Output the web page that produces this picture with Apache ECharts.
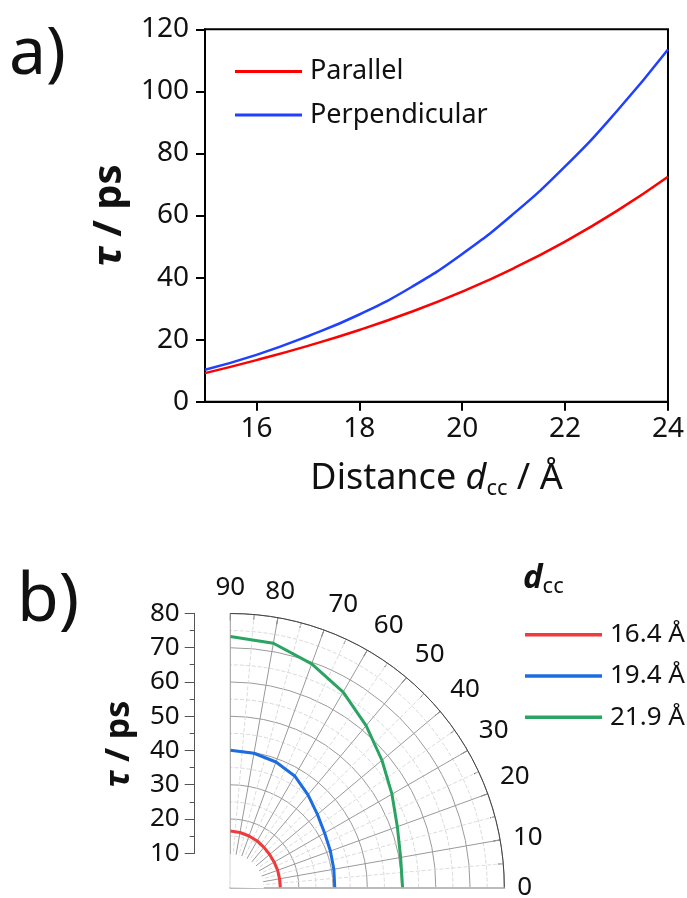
<!DOCTYPE html>
<html>
<head>
<meta charset="UTF-8">
<title>tau vs distance</title>
<script src="https://cdn.jsdelivr.net/npm/echarts@6/dist/echarts.min.js"></script>
<style>
 body{margin:0;background:#fff;}
 #main{width:687px;height:898px;}
</style>
</head>
<body>
<div id="main"></div>
<script>
// a) tau vs distance
var distance = [15, 16, 17, 18, 19, 20, 21, 22, 23, 24];
var parallel = [9.2, 13.4, 18.0, 23.1, 28.9, 35.5, 43.0, 51.6, 61.4, 72.5];
var perpendicular = [10.3, 15.1, 21.1, 28.1, 36.8, 47.6, 60.6, 75.8, 93.5, 113.5];
var xTicks = [16, 18, 20, 22, 24];

// b) polar, tau vs angle for three distances
var angles = [0, 10, 20, 30, 40, 50, 60, 70, 80, 90];
var tau164 = [14.6, 14.6, 14.7, 14.8, 15.0, 15.3, 15.7, 16.0, 16.3, 16.5];
var tau194 = [30.5, 30.7, 31.1, 31.8, 33.2, 35.3, 37.6, 39.0, 39.8, 40.1];
var tau219 = [50.3, 50.5, 51.9, 54.5, 57.8, 61.7, 65.9, 69.5, 72.4, 73.3];
var dccNames = ['16.4 Å', '19.4 Å', '21.9 Å'];

var font = 'Noto Sans';
var myChart = echarts.init(document.getElementById('main'));

function pairs(x, y) {
    return x.map(function (v, i) { return [v, y[i]]; });
}
function polarPairs(tau) {
    return angles.map(function (a, i) { return [tau[i], a]; });
}
var clear = 'rgba(0,0,0,0)';
// solid circles every 10, none at 0 and 10 (hole in the middle)
var circleColors = [clear, clear, '#9a9a9a', '#9a9a9a', '#9a9a9a', '#9a9a9a', '#9a9a9a', '#9a9a9a', '#9a9a9a'];
// dashed circles at 15, 25 ... 75 (second polar, interval 5)
var dashColors = [];
for (var k = 0; k <= 16; k++) dashColors.push(k % 2 === 1 && k >= 3 ? '#d8d8d8' : clear);

var polarCenter = [230.3, 887.5];
var angleBase = {
    type: 'value', min: 0, max: 90, interval: 10,
    startAngle: 0, endAngle: 90, clockwise: false
};

var option = {
    animation: false,
    textStyle: {fontFamily: font},
    grid: [
        {left: 205, top: 29.3, width: 463.3, height: 372.4, show: true, borderColor: '#000', borderWidth: 2},
        {left: 194.7, top: 613.3, width: 1, height: 240}
    ],
    legend: [
        {
            orient: 'vertical', left: 230, top: 51.5, icon: 'rect', itemWidth: 67, itemHeight: 3, itemGap: 13.4,
            textStyle: {fontSize: 27, lineHeight: 30, color: '#111', fontFamily: font, padding: [0, 0, 0, 3]},
            data: ['Parallel', 'Perpendicular']
        },
        {
            orient: 'vertical', left: 520, top: 614.7, icon: 'rect', itemWidth: 77, itemHeight: 3.5, itemGap: 11.3,
            textStyle: {fontSize: 26, lineHeight: 30, color: '#111', fontFamily: font, padding: [0, 0, 0, 3]},
            data: dccNames
        }
    ],
    xAxis: [
        {
            gridIndex: 0, type: 'value', min: 15, max: 24,
            name: '{t|Distance }{i|d}{s|cc}{t| / Å}',
            nameLocation: 'middle', nameGap: 56,
            nameTextStyle: {
                rich: {
                    t: {fontSize: 36, fontFamily: font, color: '#111'},
                    i: {fontSize: 36, fontFamily: font, fontStyle: 'italic', color: '#111'},
                    s: {fontSize: 22, fontFamily: font, color: '#111', padding: [20, 0, 0, 0]}
                }
            },
            axisLine: {lineStyle: {color: '#000', width: 2}},
            axisTick: {inside: false, length: 9, lineStyle: {width: 2}, customValues: xTicks},
            axisLabel: {fontSize: 28, color: '#111', margin: 13, customValues: xTicks},
            splitLine: {show: false}
        },
        {gridIndex: 1, type: 'value', min: 0, max: 1, show: false}
    ],
    yAxis: [
        {
            gridIndex: 0, type: 'value', min: 0, max: 120, interval: 20,
            name: '{i|τ}{t| / ps}', nameLocation: 'middle', nameGap: 64, nameRotate: 90,
            nameTextStyle: {
                rich: {
                    i: {fontSize: 40, fontFamily: font, fontStyle: 'italic', fontWeight: 'bold', color: '#111'},
                    t: {fontSize: 40, fontFamily: font, fontWeight: 'bold', color: '#111'}
                }
            },
            axisLine: {show: true, lineStyle: {color: '#000', width: 2}},
            axisTick: {show: true, inside: false, length: 9, lineStyle: {width: 2}},
            axisLabel: {fontSize: 28, color: '#111', margin: 16},
            splitLine: {show: false}
        },
        {
            gridIndex: 1, type: 'value', min: 10, max: 80, interval: 10,
            axisLine: {show: true, lineStyle: {color: '#555', width: 1}},
            axisTick: {show: true, inside: false, length: 10, lineStyle: {color: '#555'}},
            minorTick: {show: true, splitNumber: 2, length: 5, lineStyle: {color: '#555'}},
            axisLabel: {fontSize: 26, color: '#111', margin: 15},
            splitLine: {show: false}
        }
    ],
    polar: [
        {center: polarCenter, radius: [0, 274]},
        {center: polarCenter, radius: [0, 274]}
    ],
    angleAxis: [
        Object.assign({}, angleBase, {
            polarIndex: 0, z: 3,
            axisLine: {show: true, lineStyle: {color: '#444', width: 1}},
            axisTick: {show: true, inside: true, length: 7, lineStyle: {color: '#444'}},
            minorTick: {show: true, splitNumber: 2, length: 5, lineStyle: {color: '#444'}},
            axisLabel: {fontSize: 26, color: '#111', margin: 13},
            splitLine: {show: true, lineStyle: {color: '#9a9a9a', width: 1}},
            minorSplitLine: {show: true, lineStyle: {color: '#dcdcdc', type: 'dashed'}}
        }),
        Object.assign({}, angleBase, {
            polarIndex: 1, z: 0,
            axisLine: {show: false}, axisTick: {show: false}, axisLabel: {show: false},
            splitLine: {show: false}
        })
    ],
    radiusAxis: [
        {
            polarIndex: 0, type: 'value', min: 0, max: 80, interval: 10, z: 3,
            axisLine: {show: true, lineStyle: {color: '#bbb', width: 2}},
            axisTick: {show: false},
            axisLabel: {show: false},
            splitLine: {show: true, lineStyle: {color: circleColors, width: 1}}
        },
        {
            polarIndex: 1, type: 'value', min: 0, max: 80, interval: 5, z: 0,
            axisLine: {show: false}, axisTick: {show: false}, axisLabel: {show: false},
            splitLine: {show: true, lineStyle: {color: dashColors, width: 1, type: 'dashed'}}
        }
    ],
    graphic: [
        {type: 'text', left: 9, top: 22, style: {text: 'a)', fontSize: 66, fontFamily: font, fill: '#111'}},
        {type: 'text', left: 17, top: 568, style: {text: 'b)', fontSize: 68, fontFamily: font, fill: '#111'}},
        {
            // blank hole in the middle of the polar grid
            type: 'sector', z: 4,
            shape: {cx: polarCenter[0], cy: polarCenter[1], r: 33.5, startAngle: -Math.PI / 2, endAngle: 0.02},
            style: {fill: '#fff'}
        },
        {
            type: 'text', x: 119, y: 744, rotation: Math.PI / 2,
            style: {
                text: '{i|τ}{t| / ps}', align: 'center', verticalAlign: 'middle',
                rich: {
                    i: {fontSize: 34, fontFamily: font, fontStyle: 'italic', fontWeight: 'bold', fill: '#111'},
                    t: {fontSize: 34, fontFamily: font, fontWeight: 'bold', fill: '#111'}
                }
            }
        },
        {
            type: 'text', left: 523, top: 562,
            style: {
                text: '{i|d}{s|cc}',
                rich: {
                    i: {fontSize: 33, fontFamily: font, fontStyle: 'italic', fontWeight: 'bold', fill: '#111'},
                    s: {fontSize: 22, fontFamily: font, fill: '#111', padding: [17, 0, 0, 0]}
                }
            }
        }
    ],
    series: [
        {
            name: 'Parallel', type: 'line', xAxisIndex: 0, yAxisIndex: 0, smooth: true,
            symbol: 'none', lineStyle: {color: '#ff0000', width: 2.5}, itemStyle: {color: '#ff0000'},
            data: pairs(distance, parallel)
        },
        {
            name: 'Perpendicular', type: 'line', xAxisIndex: 0, yAxisIndex: 0, smooth: true,
            symbol: 'none', lineStyle: {color: '#2040ff', width: 2.5}, itemStyle: {color: '#2040ff'},
            data: pairs(distance, perpendicular)
        },
        {
            name: dccNames[0], type: 'line', coordinateSystem: 'polar', polarIndex: 0, symbol: 'none', z: 5,
            lineStyle: {color: '#f03a3c', width: 3}, itemStyle: {color: '#f03a3c'},
            data: polarPairs(tau164)
        },
        {
            name: dccNames[1], type: 'line', coordinateSystem: 'polar', polarIndex: 0, symbol: 'none', z: 5,
            lineStyle: {color: '#1c6de0', width: 3}, itemStyle: {color: '#1c6de0'},
            data: polarPairs(tau194)
        },
        {
            name: dccNames[2], type: 'line', coordinateSystem: 'polar', polarIndex: 0, symbol: 'none', z: 5,
            lineStyle: {color: '#2ba362', width: 3}, itemStyle: {color: '#2ba362'},
            data: polarPairs(tau219)
        }
    ]
};
myChart.setOption(option);
</script>
</body>
</html>
